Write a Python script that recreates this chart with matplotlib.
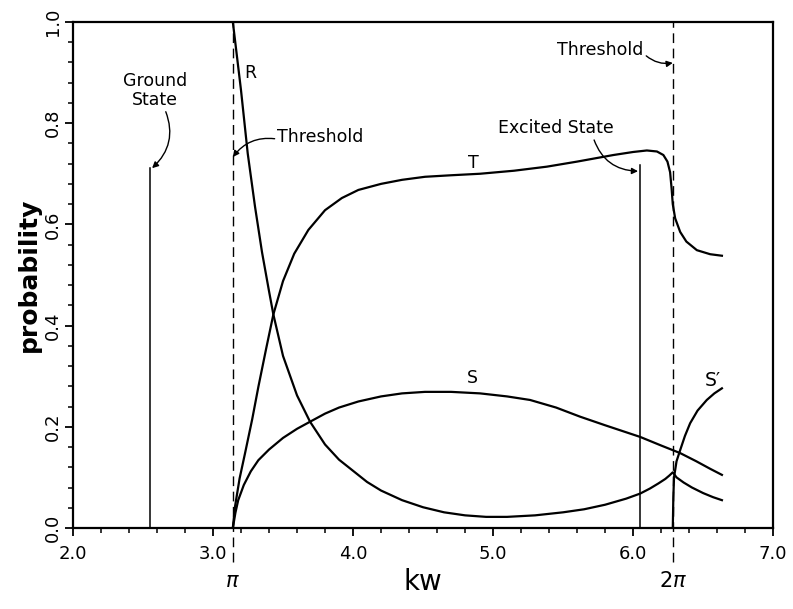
import numpy as np
import matplotlib.pyplot as plt
from matplotlib.ticker import MultipleLocator

# ---------------------------------------------------------
# Data
# ---------------------------------------------------------
PI = np.pi
kw_R = [PI, 3.20, 3.248, 3.30, 3.35, 3.40, 3.431, 3.50, 3.60, 3.693, 3.80, 3.90, 3.991,
        4.10, 4.20, 4.35, 4.50, 4.65, 4.80, 4.95, 5.10, 5.30, 5.50, 5.65, 5.80, 5.95,
        6.05, 6.12, 6.18, 6.23, 6.26, 6.283, 6.31, 6.36, 6.42, 6.50, 6.57, 6.634]
p_R = [1.0, 0.865, 0.740, 0.635, 0.545, 0.468, 0.422, 0.340, 0.262, 0.210, 0.165, 0.135, 0.115,
       0.091, 0.074, 0.055, 0.041, 0.031, 0.025, 0.022, 0.022, 0.025, 0.031, 0.037, 0.046, 0.058,
       0.068, 0.078, 0.088, 0.097, 0.104, 0.110, 0.100, 0.090, 0.080, 0.069, 0.061, 0.055]

kw_T = [PI, 3.157, 3.19, 3.229, 3.28, 3.324, 3.38, 3.431, 3.50, 3.58, 3.681, 3.80, 3.92, 4.038,
        4.20, 4.35, 4.514, 4.70, 4.907, 5.15, 5.384, 5.60, 5.859, 6.00, 6.098, 6.17, 6.216,
        6.245, 6.264, 6.275, 6.283, 6.30, 6.336, 6.38, 6.455, 6.55, 6.634]
p_T = [0.0, 0.042, 0.098, 0.148, 0.215, 0.279, 0.355, 0.422, 0.488, 0.542, 0.589, 0.628, 0.652, 0.668,
       0.680, 0.688, 0.694, 0.697, 0.700, 0.706, 0.714, 0.724, 0.737, 0.743, 0.746, 0.744, 0.737,
       0.724, 0.703, 0.670, 0.640, 0.612, 0.585, 0.566, 0.549, 0.541, 0.538]

kw_S = [PI, 3.16, 3.18, 3.22, 3.27, 3.324, 3.40, 3.50, 3.60, 3.693, 3.80, 3.90, 4.038, 4.20,
        4.35, 4.514, 4.70, 4.907, 5.10, 5.264, 5.45, 5.621, 5.80, 6.05, 6.20, 6.336, 6.45,
        6.55, 6.634]
p_S = [0.0, 0.030, 0.055, 0.085, 0.112, 0.134, 0.155, 0.178, 0.196, 0.210, 0.226, 0.238, 0.250, 0.260,
       0.266, 0.269, 0.269, 0.266, 0.260, 0.253, 0.238, 0.220, 0.203, 0.180, 0.163, 0.148, 0.132,
       0.117, 0.105]

kw_Sp = [2 * PI, 6.287, 6.292, 6.31, 6.336, 6.37, 6.407, 6.46, 6.526, 6.58, 6.634]
p_Sp = [0.0, 0.060, 0.100, 0.132, 0.154, 0.182, 0.207, 0.232, 0.253, 0.266, 0.276]

ground_kw, ground_top = 2.55, 0.711
excited_kw, excited_top = 6.05, 0.717
thresholds = [PI, 2 * PI]

x_ticks = [2.0, 3.0, 4.0, 5.0, 6.0, 7.0]
y_ticks = [0.0, 0.2, 0.4, 0.6, 0.8, 1.0]

# ---------------------------------------------------------
# Plot
# ---------------------------------------------------------
fig = plt.figure(figsize=(7.93, 6.09), dpi=100)
ax = fig.add_axes([0.092, 0.133, 0.883, 0.831])

lw = 1.6
for xs, ys in [(kw_R, p_R), (kw_T, p_T), (kw_S, p_S), (kw_Sp, p_Sp)]:
    ax.plot(xs, ys, color='black', lw=lw, solid_joinstyle='round')

# state lines
ax.plot([ground_kw, ground_kw], [0, ground_top], color='black', lw=1.1)
ax.plot([excited_kw, excited_kw], [0, excited_top], color='black', lw=1.1)

# thresholds (extend below the axis)
for t in thresholds:
    ax.plot([t, t], [-0.068, 1.0], color='black', lw=1.0, dashes=(7, 4), clip_on=False)

ax.set_xlim(2.0, 7.0)
ax.set_ylim(0.0, 1.0)
ax.set_xticks(x_ticks)
ax.set_xticklabels([f'{v:.1f}' for v in x_ticks])
ax.set_yticks(y_ticks)
ax.set_yticklabels([f'{v:.1f}' for v in y_ticks], rotation=90, va='center')
ax.xaxis.set_minor_locator(MultipleLocator(0.2))
ax.yaxis.set_minor_locator(MultipleLocator(0.04))
ax.tick_params(which='major', direction='out', length=6, width=1.3, labelsize=13, pad=5)
ax.tick_params(which='minor', direction='out', length=3.5, width=1.1)
ax.tick_params(axis='x', pad=6)
ax.tick_params(axis='y', pad=2)
for s in ax.spines.values():
    s.set_linewidth(1.6)

ax.set_xlabel('kw', fontsize=20, labelpad=4)
ax.set_ylabel('probability', fontsize=18, fontweight='bold', labelpad=2)

# pi labels under the axis
ax.text(PI, -0.105, r'$\pi$', fontsize=15, ha='center', va='center')
ax.text(2 * PI, -0.105, r'$2\pi$', fontsize=15, ha='center', va='center')

# curve labels
fs = 12.5
ax.text(3.264, 0.90, 'R', fontsize=fs, ha='center', va='center')
ax.text(4.857, 0.721, 'T', fontsize=fs, ha='center', va='center')
ax.text(4.85, 0.296, 'S', fontsize=fs, ha='center', va='center')
ax.text(6.571, 0.292, "S\u2032", fontsize=fs + 1, ha='center', va='center')

arrow = dict(arrowstyle='-|>', color='black', lw=1.0, mutation_scale=9, shrinkA=0, shrinkB=0)

ax.annotate('Ground\nState', xy=(ground_kw + 0.015, ground_top), xytext=(2.586, 0.865),
            fontsize=fs, ha='center', va='center', linespacing=1.1,
            arrowprops=dict(arrow, connectionstyle='arc3,rad=-0.35', relpos=(0.65, 0.0)))
ax.annotate('Threshold', xy=(PI, 0.733), xytext=(3.46, 0.772),
            fontsize=fs, ha='left', va='center',
            arrowprops=dict(arrow, connectionstyle='arc3,rad=0.3', relpos=(0.0, 0.4)))
ax.annotate('Excited State', xy=(excited_kw - 0.015, 0.705), xytext=(5.45, 0.79),
            fontsize=fs, ha='center', va='center',
            arrowprops=dict(arrow, connectionstyle='arc3,rad=0.35', relpos=(0.82, 0.0)))
ax.annotate('Threshold', xy=(2 * PI, 0.919), xytext=(5.457, 0.945),
            fontsize=fs, ha='left', va='center',
            arrowprops=dict(arrow, connectionstyle='arc3,rad=0.25', relpos=(1.0, 0.3)))

fig.savefig('out.png', dpi=100)
